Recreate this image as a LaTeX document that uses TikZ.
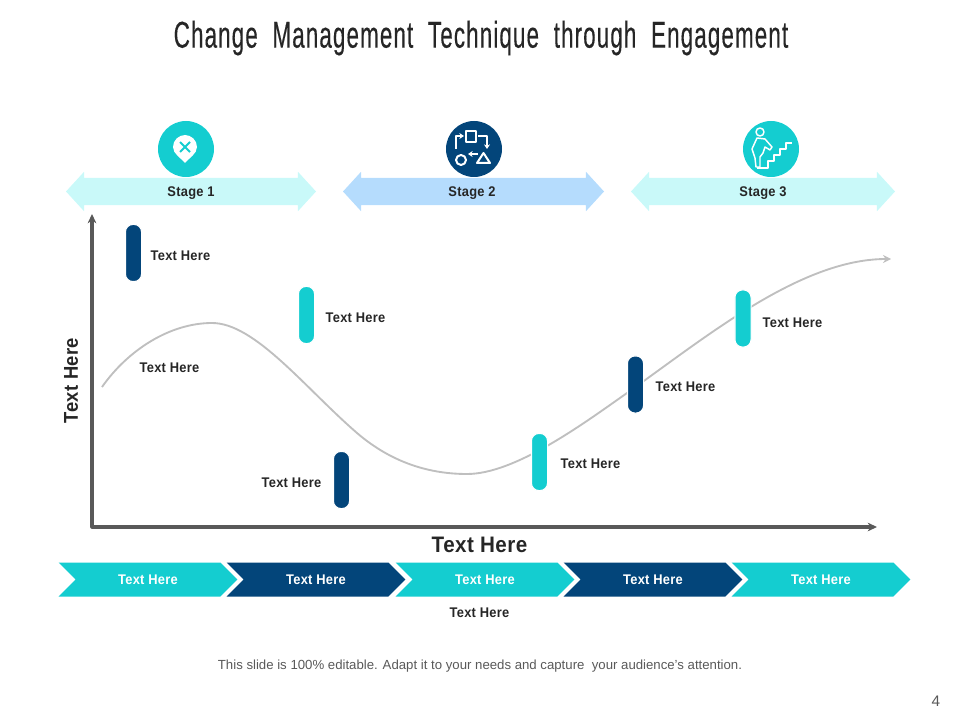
\documentclass[tikz,border=0pt]{standalone}
\usepackage{fontspec}
\setmainfont{Liberation Sans}
\newfontfamily\titlefont[FakeStretch=0.6,LetterSpace=3,WordSpace=2,FakeBold=0.3]{Liberation Sans}
\newfontfamily\labelfont[FakeStretch=0.92,LetterSpace=2]{Liberation Sans}
\usetikzlibrary{shapes.arrows,shapes.symbols,arrows.meta}
\definecolor{tealc}{HTML}{14CDD0}
\definecolor{navyc}{HTML}{03457A}
\definecolor{paleteal}{HTML}{C9F9F9}
\definecolor{paleblue}{HTML}{B5DCFD}
\definecolor{axisgray}{HTML}{595959}
\definecolor{curvegray}{HTML}{BFBFBF}
\definecolor{inkc}{HTML}{262626}
\tikzset{
    stagearrow/.style={double arrow, inner xsep=0pt, inner ysep=10.1pt, minimum width=29.25pt, double arrow head extend=4.5pt, double arrow tip angle=95},
    chevron/.style={signal, signal from=west, signal to=east, signal pointer angle=90, inner sep=0pt, minimum width=134pt, minimum height=25.5pt, text=white, font=\labelfont\bfseries\fontsize{10.5}{12}\selectfont},
    pill/.style={rounded corners=5.6pt, draw=white, line width=0.9pt, minimum width=12.15pt, minimum height=42.9pt, inner sep=0pt},
    lbl/.style={text=inkc, inner sep=0pt, font=\labelfont\bfseries\fontsize{10.5}{12}\selectfont},
    axislbl/.style={text=inkc, inner sep=0pt, font=\labelfont\bfseries\fontsize{16}{18}\selectfont},
    badge/.style={circle, minimum size=42pt, inner sep=0pt},
    glyph/.style={white, line width=1.5pt, line join=round},
    glyphtip/.style={glyph, line width=1.3pt, -{Stealth[length=3.5pt,width=4.5pt]}}
}

\begin{document}
\begin{tikzpicture}[x=0.75pt, y=-0.75pt, line join=round]
    \useasboundingbox (0,0) rectangle (960,720);

    \node[inner sep=0pt, text=inkc, font=\titlefont\fontsize{28}{30}\selectfont] (title) at (481,38) {Change Management Technique through Engagement};

    % stage banners
    \node[stagearrow, fill=paleteal, minimum height=187.5pt] (stageA) at (191,191.5) {};
    \node[stagearrow, fill=paleblue, minimum height=195.75pt] (stageB) at (473.5,191.5) {};
    \node[stagearrow, fill=paleteal, minimum height=198pt] (stageC) at (763,191.5) {};
    \node[lbl] (stageTextA) at (191,193) {Stage 1};
    \node[lbl] (stageTextB) at (472,193) {Stage 2};
    \node[lbl] (stageTextC) at (763,193) {Stage 3};

    \node[badge, fill=tealc] (badgeA) at (186,149) {};
    \node[badge, fill=navyc] (badgeB) at (474,149) {};
    \node[badge, fill=tealc] (badgeC) at (771,149) {};

    % pin
    \fill[white] (185,163) .. controls (181,158) and (173,154) .. (173,147) .. controls (173,140) and (179,135) .. (185,135) .. controls (191,135) and (197,140) .. (197,147) .. controls (197,154) and (189,158) .. (185,163) -- cycle;
    \draw[tealc, line width=1.5pt] (180,142) -- (190,152) (190,142) -- (180,152);

    % shapes and arrows
    \draw[glyph] (466,131) rectangle (476,142);
    \draw[glyphtip] (456,149) -- (456,136) -- (464,136);
    \draw[glyphtip] (478,136) -- (487,136) -- (487,149);
    \draw[glyphtip] (478,154) -- (468,154);
    \draw[glyph] (461,160) circle (5);
    \draw[glyph] (477,163) -- (483.5,153) -- (490,163) -- cycle;

    % climber
    \draw[glyph, line width=1.1pt] (760,132) circle (4);
    \draw[glyph, line width=1.1pt] (757,138) -- (752,149) -- (755,158) -- (756,167) -- (760,167) -- (760,157) -- (763,153) -- (765,147) -- (770,150) -- (772,147) -- (765,139) -- cycle;
    \draw[glyph, line width=1.1pt] (757,168) -- (768,168) -- (768,161) -- (774,161) -- (774,155) -- (780,155) -- (780,149) -- (786,149) -- (786,143) -- (792,143);

    % axes
    \coordinate (origin) at (92,527);
    \coordinate (yend) at (92,214);
    \coordinate (xend) at (877,527);
    \draw[axisgray, line width=2.3pt, {Stealth[length=7pt,width=6.5pt]}-{Stealth[length=7pt,width=6.5pt]}] (yend) -- (origin) -- (xend);

    % trend curve
    \coordinate (curveA) at (102,387);
    \coordinate (curveB) at (212,323);
    \coordinate (curveC) at (357,433);
    \coordinate (curveD) at (467,474);
    \coordinate (curveE) at (627,393);
    \coordinate (curveF) at (891,259);
    \draw[curvegray, line width=1.4pt, -{Stealth[length=6pt,width=6pt]}] (curveA) .. controls (128,350) and (170,323) .. (curveB) .. controls (255,323) and (305,388) .. (curveC) .. controls (392,463) and (430,474) .. (curveD) .. controls (515,474) and (583,424) .. (curveE) .. controls (705,338) and (800,259) .. (curveF);

    % markers
    \node[pill, fill=navyc] (markA) at (133.5,253) {};
    \node[pill, fill=tealc] (markB) at (306.5,315) {};
    \node[pill, fill=navyc] (markC) at (341.5,480) {};
    \node[pill, fill=tealc] (markD) at (539.5,462) {};
    \node[pill, fill=navyc] (markE) at (635.5,384.5) {};
    \node[pill, fill=tealc] (markF) at (743,318.5) {};

    \node[lbl] (textA) at (180.5,255.5) {Text Here};
    \node[lbl] (textB) at (355.5,317.5) {Text Here};
    \node[lbl] (textC) at (291.5,482.5) {Text Here};
    \node[lbl] (textG) at (169.5,367.5) {Text Here};
    \node[lbl] (textD) at (590.5,463.5) {Text Here};
    \node[lbl] (textE) at (685.5,386.5) {Text Here};
    \node[lbl] (textF) at (792.5,322.5) {Text Here};

    \node[axislbl, font=\labelfont\bfseries\fontsize{15}{18}\selectfont, rotate=90] (ylabel) at (71,380.5) {Text Here};
    \node[axislbl, font=\labelfont\bfseries\fontsize{16.8}{18}\selectfont] (xlabel) at (479.5,545) {Text Here};

    % chevrons
    \node[chevron, fill=tealc] (chevA) at (148,579.5) {Text Here};
    \node[chevron, fill=navyc] (chevB) at (316,579.5) {Text Here};
    \node[chevron, fill=tealc] (chevC) at (485,579.5) {Text Here};
    \node[chevron, fill=navyc] (chevD) at (653,579.5) {Text Here};
    \node[chevron, fill=tealc] (chevE) at (821,579.5) {Text Here};

    \node[lbl] (note) at (479.5,612.5) {Text Here};
    \node[inner sep=0pt, text=axisgray, font=\fontsize{9.9}{11}\selectfont] (footer) at (480,666.5) {This slide is 100\% editable. Adapt it to your needs and capture\ \ your audience's attention.};
    \node[inner sep=0pt, text=axisgray, font=\fontsize{11.5}{12}\selectfont] (pagenum) at (936,701) {4};
\end{tikzpicture}
\end{document}
